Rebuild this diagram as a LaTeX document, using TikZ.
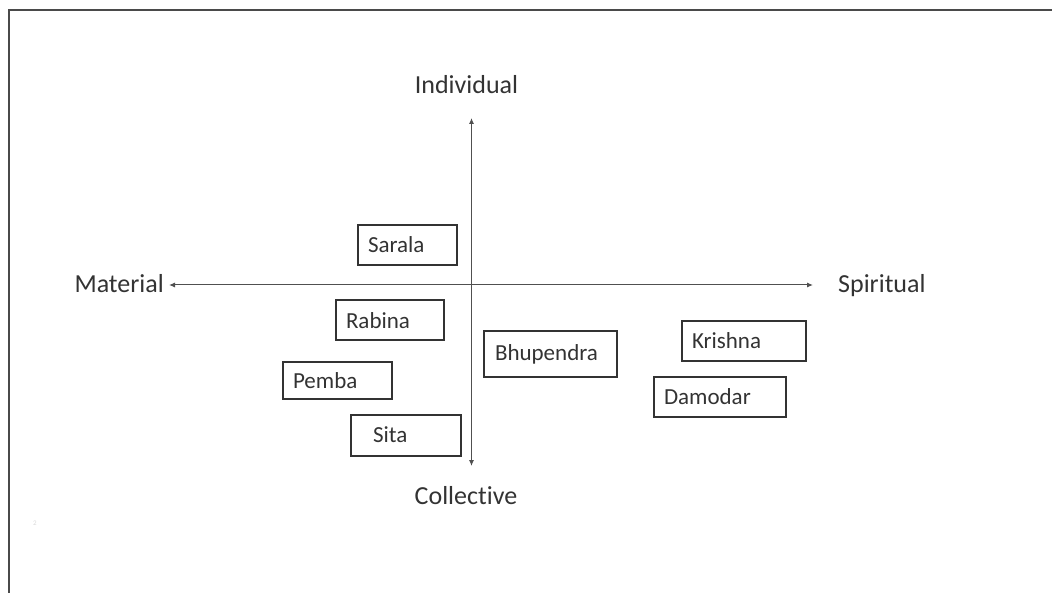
\documentclass[tikz,border=0pt]{standalone}
\usepackage{fontspec}
\setmainfont{Carlito}[Ligatures={NoCommon,NoDiscretionary}]
\usetikzlibrary{arrows.meta}
\definecolor{ink}{HTML}{333333}
\definecolor{axisgray}{HTML}{505050}
\definecolor{framegray}{HTML}{4A4A4A}
\tikzset{
  namebox/.style={draw=ink, line width=2pt, text=ink, font=\fontsize{23}{26}\selectfont,
    inner xsep=10pt, inner ysep=0pt, align=left},
  axislabel/.style={text=ink, font=\fontsize{26}{30}\selectfont, inner sep=0pt},
  axisline/.style={draw=axisgray, line width=1pt, {Latex[length=6pt,width=5pt]}-{Latex[length=6pt,width=5pt]}},
}
\begin{document}
\begin{tikzpicture}[x=1pt,y=-1pt]
  \useasboundingbox (0,0) rectangle (1052,593);
  % slide frame (top and left edges)
  \draw[framegray, line width=2pt] (1052,10) -- (8.5,10) -- (8.5,593);
  % page number
  \node[text=black!15, font=\fontsize{7}{8}\selectfont, inner sep=0pt] (pg) at (35,523) {2};

  % axes
  \coordinate (west) at (169,285);
  \coordinate (east) at (813,285);
  \coordinate (north) at (471.5,118);
  \coordinate (south) at (471.5,466);
  \draw[axisline] (west) -- (east);
  \draw[axisline] (north) -- (south);

  % axis labels
  \node[axislabel, anchor=base] (ind) at (466.5,94) {Individual};
  \node[axislabel, anchor=base] (col) at (466,504) {Collective};
  \node[axislabel, anchor=base east] (mat) at (164,293) {Material};
  \node[axislabel, anchor=base west] (spi) at (838,293) {Spiritual};

  % people
  \node[namebox, text width=79pt, minimum height=40pt] (sarala) at (407.5,245) {Sarala};
  \node[namebox, text width=88pt, minimum height=40pt] (rabina) at (390,320.5) {Rabina};
  \node[namebox, text width=89pt, minimum height=36pt] (pemba) at (337.5,380.5) {Pemba};
  \node[namebox, text width=66pt, inner xsep=22pt, minimum height=41pt] (sita) at (406,435) {Sita};
  \node[namebox, text width=111pt, inner xsep=11pt, minimum height=46pt] (bhupendra) at (550.5,354) {Bhupendra};
  \node[namebox, text width=104pt, minimum height=40pt] (krishna) at (744,341) {Krishna};
  \node[namebox, text width=112pt, minimum height=39pt] (damodar) at (720,397) {Damodar};
\end{tikzpicture}
\end{document}
